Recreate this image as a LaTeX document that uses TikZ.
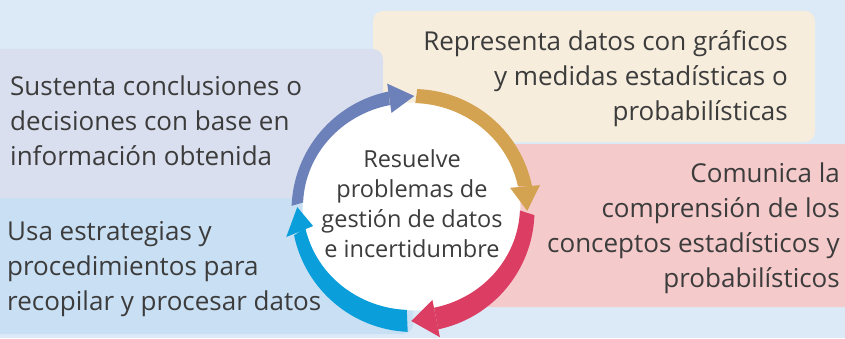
\documentclass[tikz,border=0pt]{standalone}
\usepackage{fontspec}
\setmainfont{Open Sans}
\usetikzlibrary{calc}
\definecolor{bgc}{HTML}{DCEAF7}
\definecolor{lavc}{HTML}{D9DFEE}
\definecolor{beigec}{HTML}{F7EDDD}
\definecolor{pinkc}{HTML}{F5CACB}
\definecolor{lbluec}{HTML}{C9DFF3}
\definecolor{ringblue}{HTML}{6C80B9}
\definecolor{ringgold}{HTML}{D4A352}
\definecolor{ringred}{HTML}{DB3D63}
\definecolor{ringcyan}{HTML}{0A9FDA}
\definecolor{txtc}{HTML}{3C3C3C}
\newcommand\ringseg[4]{%
  \fill[#1] ($(Co)+(#2:121.5)$) arc[start angle=#2, end angle=#3, radius=121.5]
    -- ($(Ci)+(#3:108.5 and 103.5)$) arc[start angle=#3, end angle=#2, x radius=108.5, y radius=103.5] -- cycle;
  \fill[#1] ($(Co)+(#3:129.5)$) -- ($(Cm)+(#4:115 and 112.5)$) -- ($(Ci)+(#3:100.5 and 95.5)$) -- cycle;
}
\tikzset{
  boxtext/.style={inner sep=0pt, text=txtc, font=\fontsize{26}{35}\selectfont},
  centertext/.style={inner sep=0pt, text=txtc, align=center, font=\fontsize{23.5}{30}\selectfont}
}
\begin{document}
\begin{tikzpicture}[x=1pt,y=1pt]
\useasboundingbox (0,0) rectangle (845,338);
\fill[bgc] (0,0) rectangle (845,338);
% boxes
\fill[beigec, rounded corners=10] (373,196) rectangle (815,327);
\fill[lavc, rounded corners=10] (-20,140) rectangle (383,289);
\fill[pinkc, rounded corners=10] (480,31) rectangle (870,194);
\fill[lbluec, rounded corners=10] (-20,4) rectangle (413,140);
% centres of the ring
\coordinate (Co) at (413,127.5);
\coordinate (Ci) at (411.5,131.5);
\coordinate (Cm) at (412.25,129.5);
\fill[white] (Ci) ellipse[x radius=109, y radius=104];
% ring arrows
\ringseg{ringblue}{177.8}{101.5}{89}
\ringseg{ringgold}{88}{11.3}{-1.2}
\ringseg{ringred}{-2.2}{-78}{-90.5}
\ringseg{ringcyan}{-92.5}{-168.2}{-180.7}
% texts (base anchor = last line)
\node[boxtext, anchor=base west, align=left] (sust) at (10,173)
  {Sustenta conclusiones o\\decisiones con base en\\información obtenida};
\node[boxtext, anchor=base east, align=right] (repr) at (788,218)
  {Representa datos con gráficos\\y medidas estadísticas o\\probabilísticas};
\node[boxtext, anchor=base east, align=right] (comu) at (840,51)
  {Comunica la\\comprensión de los\\conceptos estadísticos y\\probabilísticos};
\node[boxtext, anchor=base west, align=left] (usa) at (7,28)
  {Usa estrategias y\\procedimientos para\\recopilar y procesar datos};
\node[centertext, anchor=base] (centro) at (412,81)
  {Resuelve\\problemas de\\gestión de datos\\e incertidumbre};
\end{tikzpicture}
\end{document}
